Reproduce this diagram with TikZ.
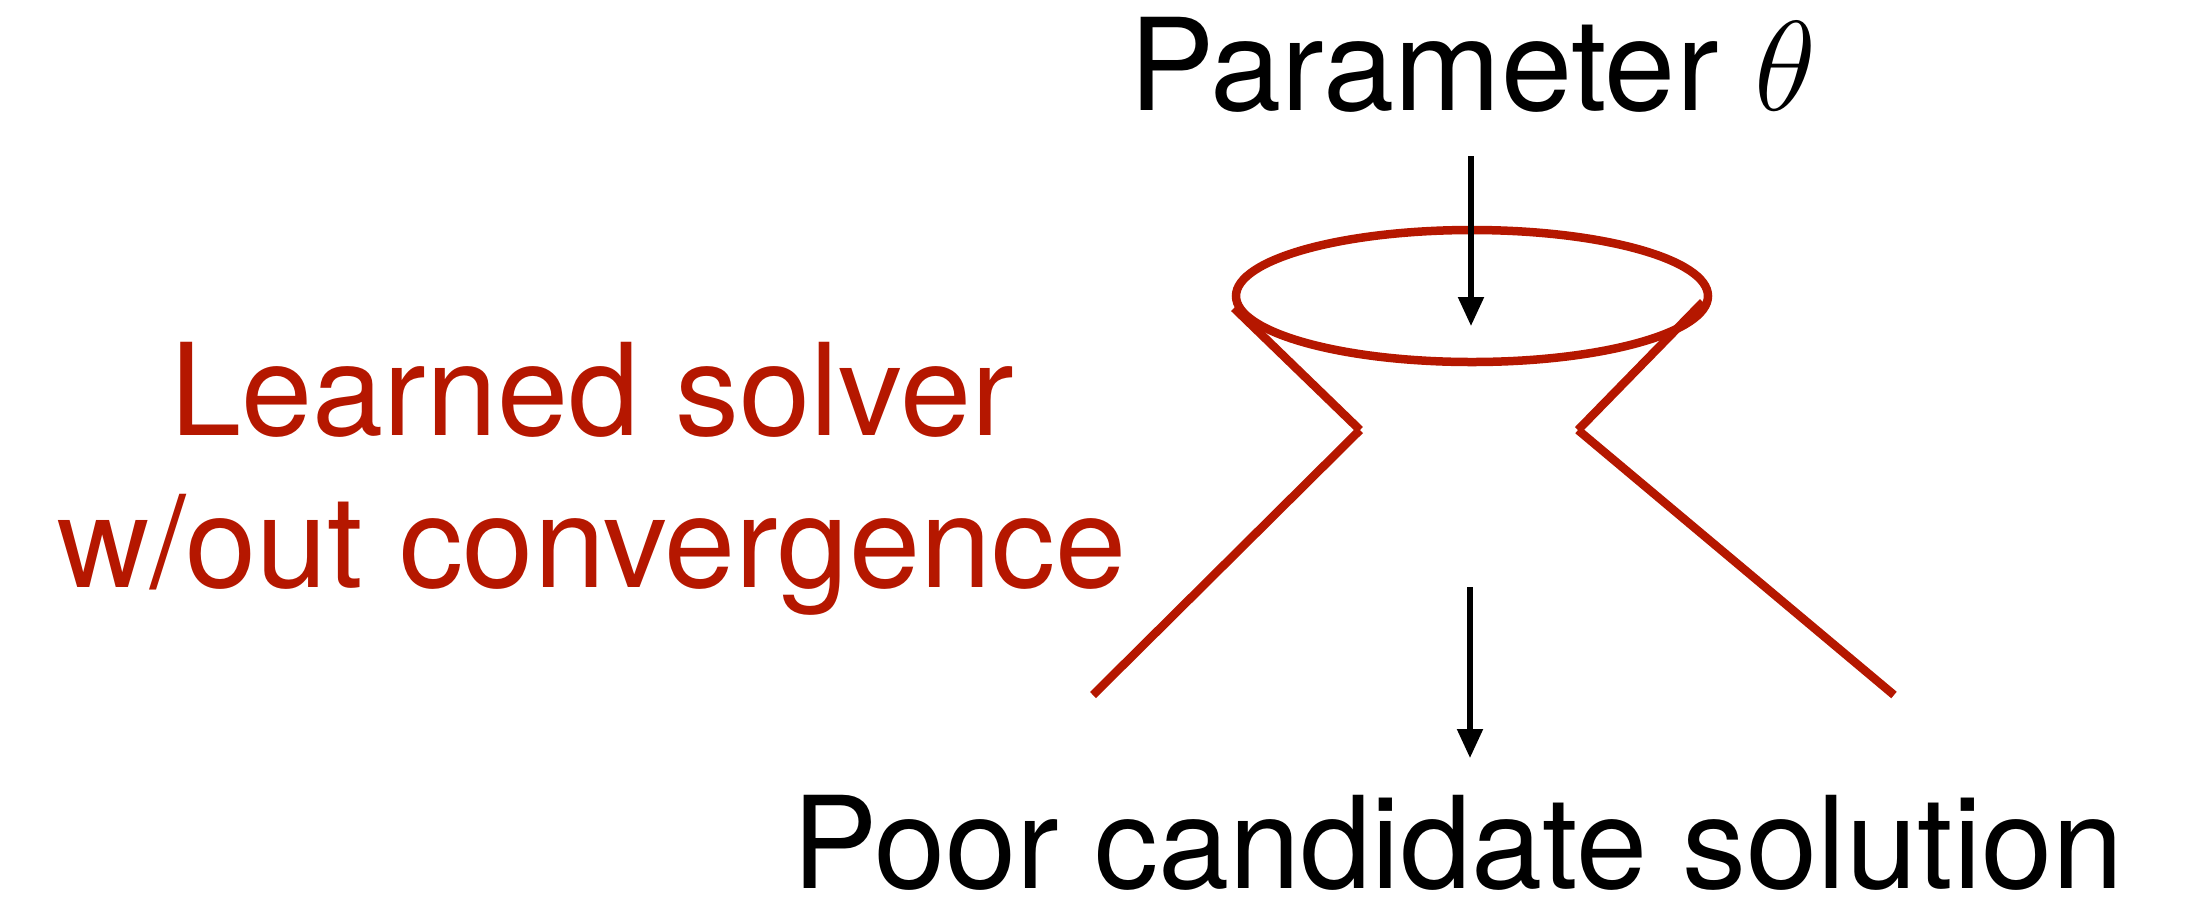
\RequirePackage{fix-cm}
\documentclass[tikz,border=0pt]{standalone}
\usepackage{fontspec}
\setmainfont{TeX Gyre Heros}
\usetikzlibrary{arrows.meta,shapes.geometric}
\definecolor{solverred}{RGB}{181,23,0}
\begin{document}
\begin{tikzpicture}[x=0.1mm,y=-0.1mm,
  bigtext/.style={inner sep=0pt,outer sep=0pt,font=\fontsize{36.4}{43.2}\selectfont},
  funnel/.style={draw=solverred,line width=0.85mm},
  flow/.style={draw=black,line width=0.52mm,-{Triangle[length=2.9mm,width=2.5mm]}}]
\useasboundingbox (0,0) rectangle (2202,896);
% texts
\node[bigtext,anchor=base west] (param) at (1129,110) {Parameter $\theta$};
\node[bigtext,anchor=base west] (result) at (792,888) {Poor candidate solution};
\node[bigtext,anchor=base,align=center,text=solverred] (solver) at (592,587) {Learned solver\\w/out convergence};
% funnel mouth
\node[ellipse,funnel,inner sep=0pt,minimum width=47.2mm,minimum height=13.2mm] (mouth) at (1472,296) {};
% funnel walls
\coordinate (lt) at (1234,308);
\coordinate (lv) at (1360,430);
\coordinate (lb) at (1093,695);
\coordinate (rt) at (1703,302);
\coordinate (rv) at (1578,430);
\coordinate (rb) at (1894,695);
\draw[funnel] (lt) -- (lv);
\draw[funnel] (lv) -- (lb);
\draw[funnel] (rt) -- (rv);
\draw[funnel] (rv) -- (rb);
% arrows
\coordinate (in1) at (1471,156);
\coordinate (in2) at (1471,326);
\coordinate (out1) at (1470,587);
\coordinate (out2) at (1470,758);
\draw[flow] (in1) -- (in2);
\draw[flow] (out1) -- (out2);
\end{tikzpicture}
\end{document}
